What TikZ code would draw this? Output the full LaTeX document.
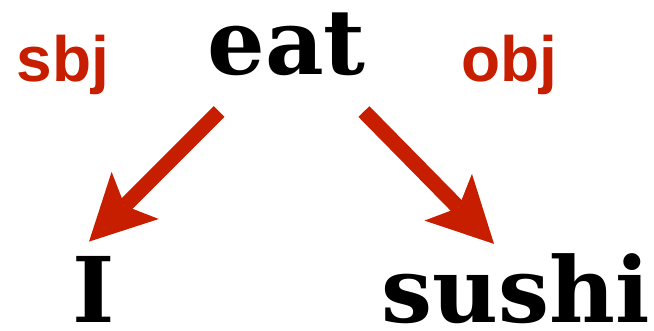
\documentclass[tikz,border=0pt]{standalone}
\usepackage{fontspec}
\setmainfont{DejaVu Serif}
\newfontfamily\relfont{Liberation Sans}
\usepackage{tikz}
\usetikzlibrary{arrows.meta}
\definecolor{deprel}{HTML}{C81E00}

\begin{document}
\begin{tikzpicture}[x=0.75pt, y=-0.75pt,
    word/.style={anchor=base, inner sep=0pt,
                 font=\fontsize{68}{68}\selectfont\bfseries},
    rel/.style={anchor=base, inner sep=0pt, text=deprel,
                font=\relfont\fontsize{48}{48}\selectfont\bfseries},
    arc/.style={draw=deprel, line width=11.5pt,
                -{Stealth[length=49pt, width=50pt, inset=11pt, line width=0pt]}}]
    \useasboundingbox (0,0) rectangle (654,331);
    % words
    \node[word] (eat) at (286.5,75) {eat};
    \node[word] (i) at (94,323) {I};
    \node[word] (sushi) at (516,323) {sushi};
    % relation labels
    \node[rel] (sbj) at (63,82) {sbj};
    \node[rel] (obj) at (509,82) {obj};
    % arcs
    \draw[arc] ([shift={(12,35)}]eat.south west) -- ([shift={(-5,-15)}]i.north);
    \draw[arc] ([shift={(-2,35)}]eat.south east) -- ([shift={(-22,-10)}]sushi.north);
  \end{tikzpicture}
\end{document}
